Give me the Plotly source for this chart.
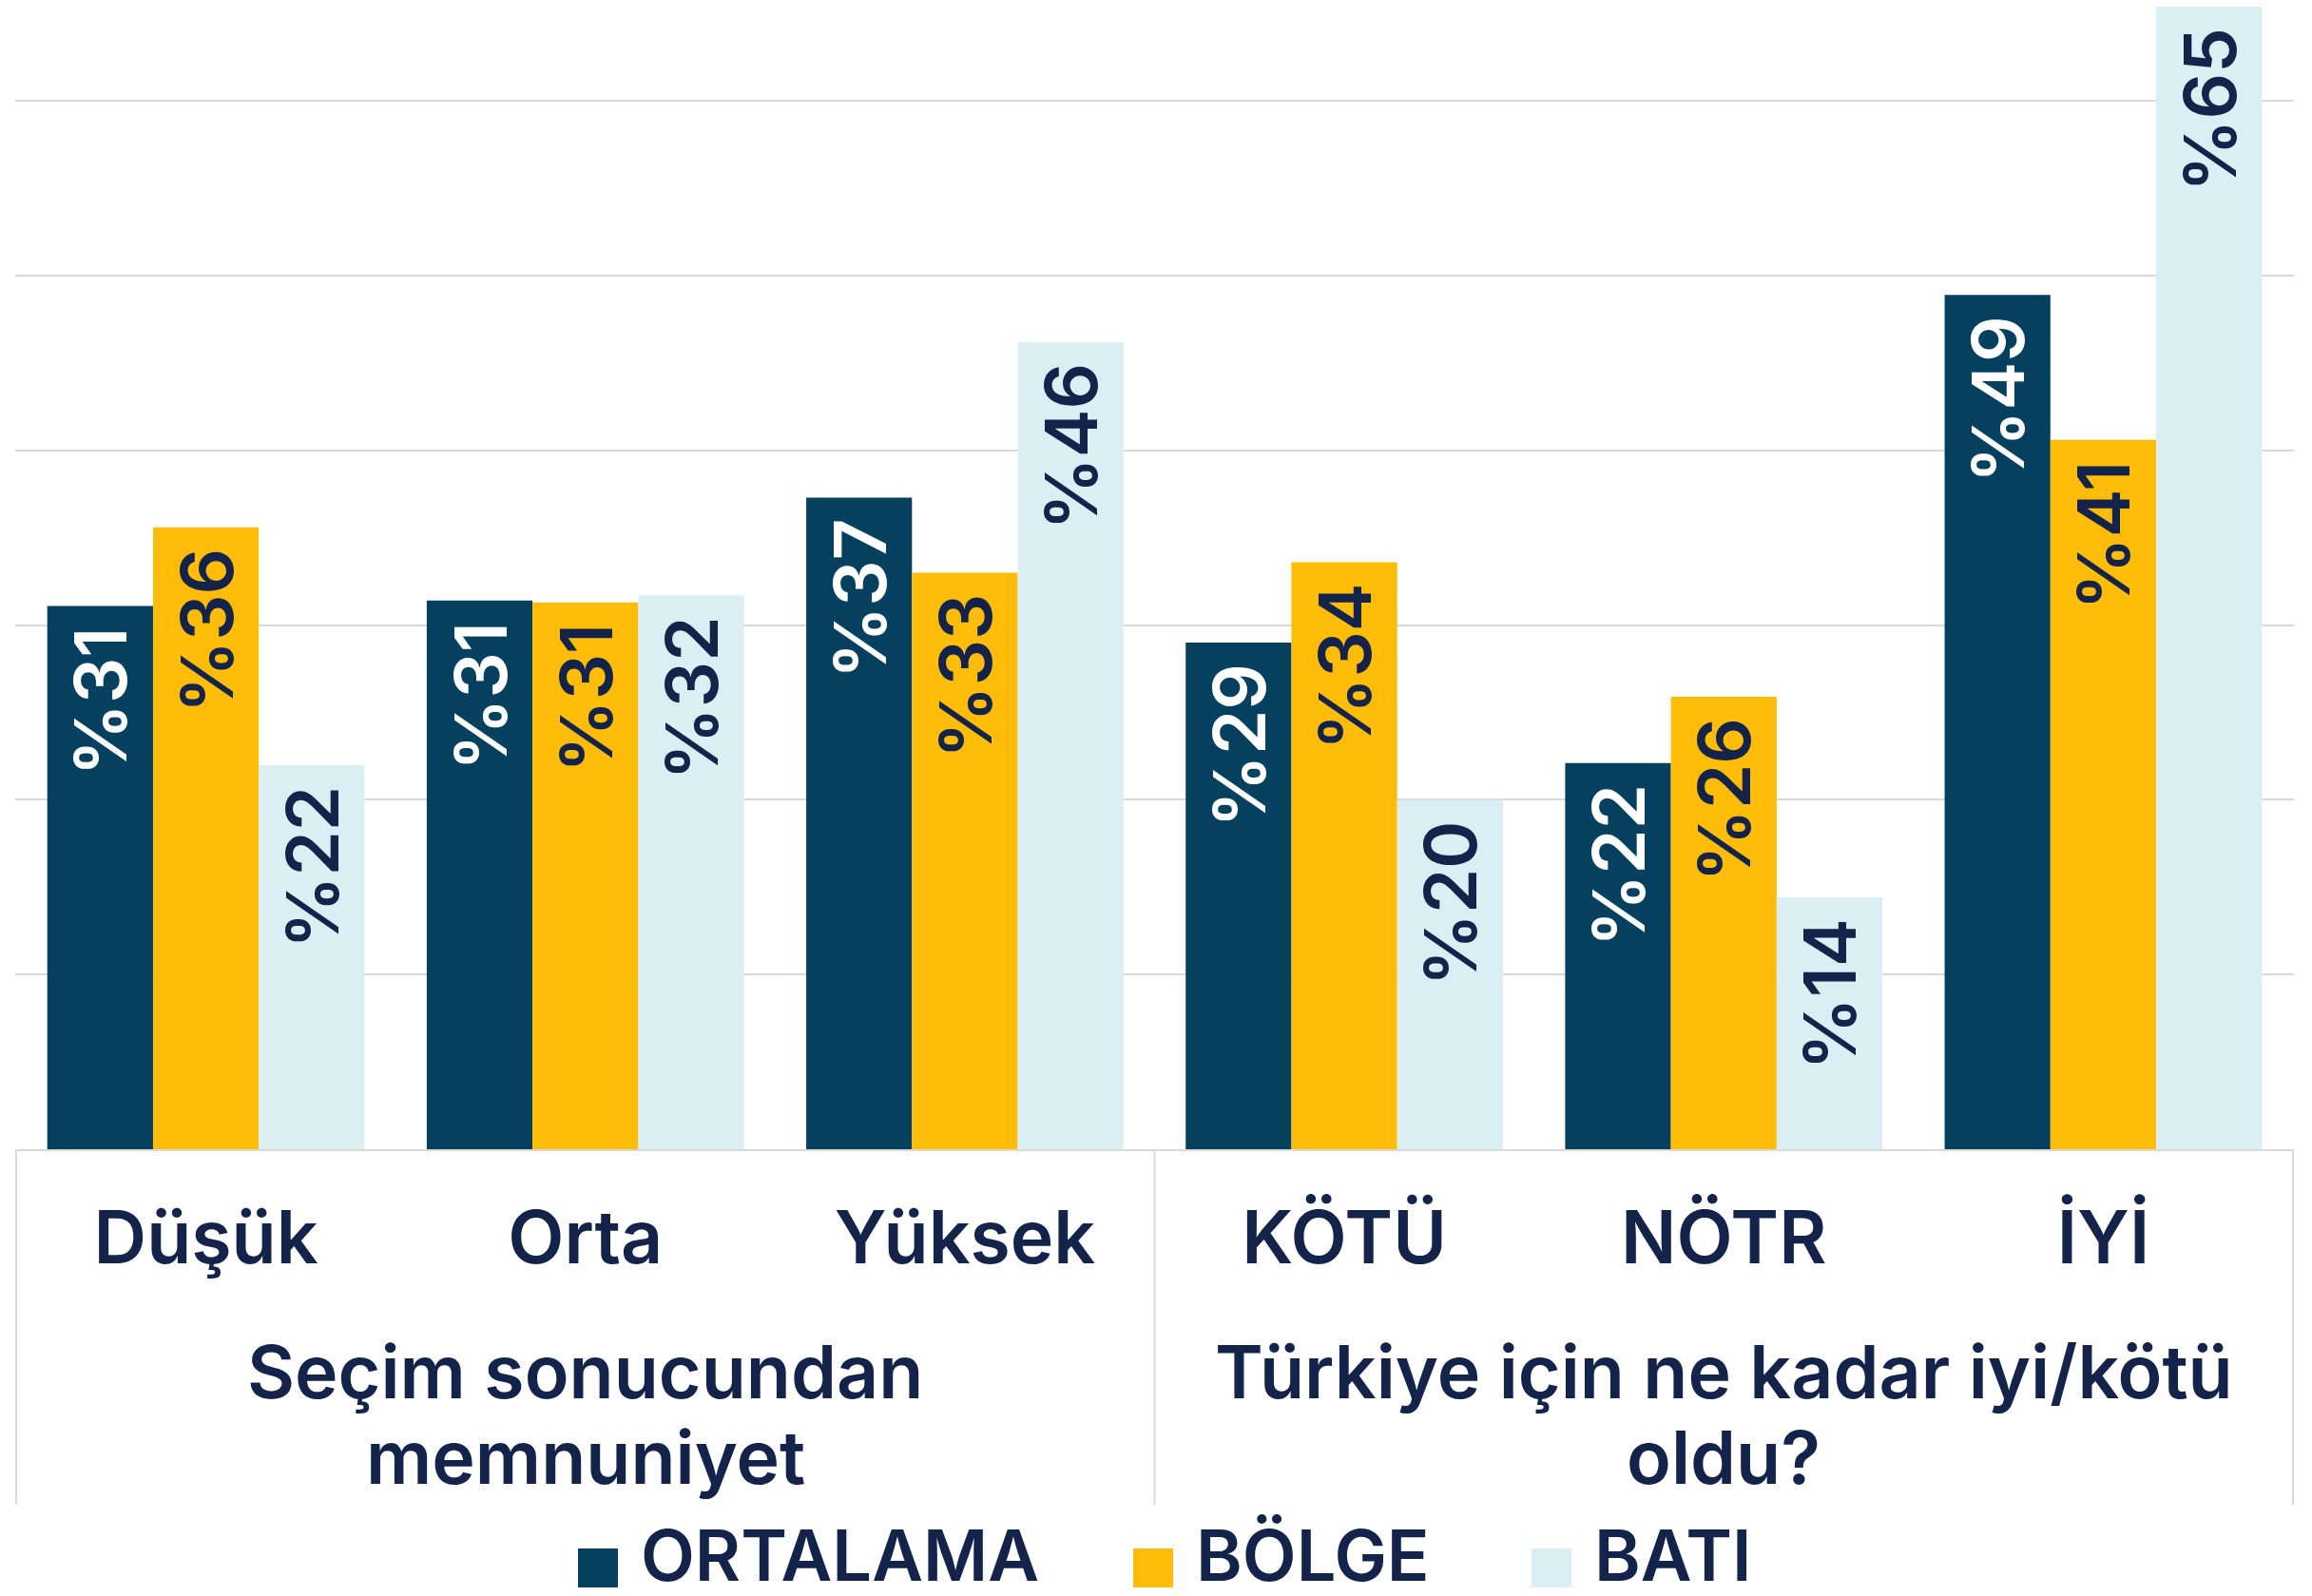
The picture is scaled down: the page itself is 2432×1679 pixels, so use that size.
import plotly.graph_objects as go

categories = ["Düşük", "Orta", "Yüksek", "KÖTÜ", "NÖTR", "İYİ"]
group_labels = ["Seçim sonucundan<br>memnuniyet", "Türkiye için ne kadar iyi/kötü<br>oldu?"]
group_centers = ["Orta", "NÖTR"]
series_names = ["ORTALAMA", "BÖLGE", "BATI"]
ortalama = [31.1, 31.4, 37.3, 29.0, 22.1, 48.9]
bolge = [35.6, 31.3, 33.0, 33.6, 25.9, 40.6]
bati = [22.0, 31.7, 46.2, 20.0, 14.4, 65.4]

colors = ["#05415F", "#FFBC08", "#DAEEF4"]
text_colors = ["#FFFFFF", "#14234A", "#14234A"]
NAVY = "#14234A"
FONT = "Inter"

W, H = 2432, 1679
ml, mr, mt = 16, W - 2413, 0
base_y = 1209
mb = H - base_y
pw, ph = W - ml - mr, H - mt - mb
px_per_unit = 18.38


def py2paper(y):
    return (H - mb - y) / ph


def px2paper(x):
    return (x - ml) / pw


fig = go.Figure()
for name, vals, c, tc in zip(series_names, [ortalama, bolge, bati], colors, text_colors):
    fig.add_trace(go.Bar(
        x=categories, y=vals, name=name, marker=dict(color=c, line=dict(width=0)),
        text=[f"%{round(v)}\u00a0" for v in vals], textposition="inside", insidetextanchor="end",
        textangle=-90, textfont=dict(family=FONT, size=76, color=tc, weight=600),
        cliponaxis=False, showlegend=False, hoverinfo="skip",
    ))

# group dividers
for xv in [-0.5, 2.5, 5.5]:
    fig.add_shape(type="line", xref="x", yref="paper", x0=xv, x1=xv,
                  y0=0, y1=py2paper(1583), line=dict(color="#D9D9D9", width=2))

# group labels
for gl, gc in zip(group_labels, group_centers):
    for i, ln in enumerate(gl.split("<br>")):
        fig.add_annotation(x=gc, xref="x", y=py2paper(1443 + 90 * i), yref="paper",
                           text=ln, showarrow=False, yanchor="middle", xanchor="center",
                           font=dict(family=FONT, size=77, color=NAVY, weight=600))

# legend
legend_sq = [608, 1192, 1611]
for name, c, sx in zip(series_names, colors, legend_sq):
    fig.add_shape(type="rect", xref="paper", yref="paper",
                  x0=px2paper(sx), x1=px2paper(sx + 42), y0=py2paper(1629), y1=py2paper(1670),
                  fillcolor=c, line=dict(width=0))
    fig.add_annotation(x=px2paper(sx + 64), xref="paper", y=py2paper(1636), yref="paper",
                       text=name, showarrow=False, xanchor="left", yanchor="middle",
                       font=dict(family=FONT, size=74, color=NAVY, weight=600))

fig.update_layout(
    width=W, height=H, margin=dict(l=ml, r=mr, t=mt, b=mb, pad=0),
    barmode="group", bargap=0.164, bargroupgap=0,
    plot_bgcolor="white", paper_bgcolor="white",
    font=dict(family=FONT, color=NAVY),
    xaxis=dict(type="category", showgrid=False, showline=True, linecolor="#D9D9D9", linewidth=2,
               ticks="", ticklabelstandoff=26,
               tickfont=dict(family=FONT, size=77, color=NAVY, weight=600)),
    yaxis=dict(range=[0, ph / px_per_unit], showgrid=True, gridcolor="#D9D9D9", gridwidth=2,
               dtick=10, showticklabels=False, zeroline=False, ticks=""),
)
fig.write_html("out.html", config={"displayModeBar": False},
               post_script="document.body.style.margin='0px';")
